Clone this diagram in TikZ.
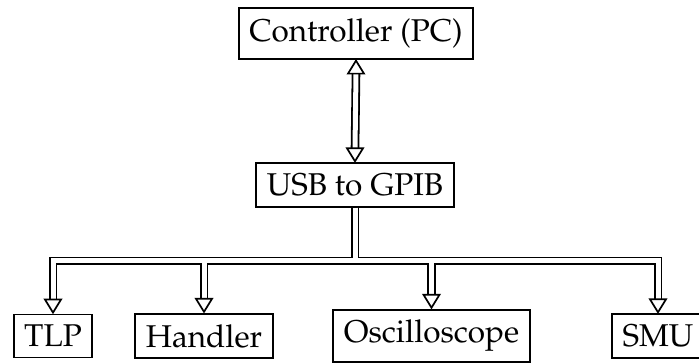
\documentclass[tikz,border=0pt]{standalone}
\usepackage[T1]{fontenc}
\usepackage{mathpazo}
\usetikzlibrary{calc}
\begin{document}
\begin{tikzpicture}[x=1pt,y=-1pt,
  box/.style={draw, line width=1.9pt, inner sep=10.5pt, font=\fontsize{31.5}{38}\selectfont, anchor=center},
  link/.style={double, line width=1.8pt, double distance=5pt},
  head/.pic={\draw[line width=1.7pt, fill=white, line join=miter] (0,-1) -- (-8,-14) -- (8,-14) -- cycle;},
]
\useasboundingbox (0,0) rectangle (699,363);
\node[box] (ctrl) at (356,33.5) {Controller (PC)};
\node[box] (usb) at (355,185) {USB to GPIB};
\node[box] (tlp) at (53,336) {TLP};
\node[box] (hdl) at (204,336) {Handler};
\node[box] (osc) at (431.5,336) {Oscilloscope};
\node[box] (smu) at (658,336) {SMU};
\coordinate (busy) at (0,261);
% controller <-> usb
\draw[link] ($(ctrl.south)+(0,13.5)$) -- ($(usb.north)+(0,-13.5)$);
\pic[rotate=180] at (ctrl.south) {head};
\pic at (usb.north) {head};
% tree from usb to instruments
\draw[link]
  (usb.south) -- (usb.south |- busy) -| ($(tlp.north)+(0,-13.5)$)
  (usb.south) -- (usb.south |- busy) -| ($(hdl.north)+(0,-13.5)$)
  (usb.south) -- (usb.south |- busy) -| ($(osc.north)+(0,-13.5)$)
  (usb.south) -- (usb.south |- busy) -| ($(smu.north)+(0,-13.5)$);
\pic at (tlp.north) {head};
\pic at (hdl.north) {head};
\pic at (osc.north) {head};
\pic at (smu.north) {head};
\end{tikzpicture}
\end{document}
